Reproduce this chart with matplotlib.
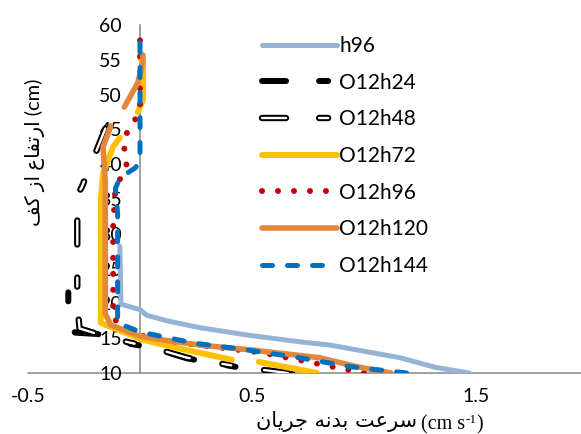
import numpy as np
import matplotlib
matplotlib.use("Agg")
import matplotlib.pyplot as plt
import matplotlib.patheffects as pe

plt.rcParams['font.family'] = ['Lato', 'DejaVu Sans']
plt.rcParams['lines.scale_dashes'] = False

nan = np.nan

# velocity (cm/s) vs height (cm)
h96_x = [1.47, 1.32, 1.16, 0.85, 0.71, 0.49, 0.27, 0.12, 0.03, 0.0, -0.085, -0.09]
h96_y = [10, 10.8, 12.2, 14.0, 14.5, 15.4, 16.5, 17.5, 18.3, 19.1, 19.9, 28.2]

o24_x = [0.68, 0.46, 0.21, 0.06, -0.045, -0.19, -0.29, -0.32, -0.32]
o24_y = [10, 10.7, 12.1, 13.6, 14.2, 15.6, 15.8, 17.0, 26.0]

o48_x = [0.66, 0.46, 0.21, 0.06, -0.05, -0.19, -0.27, -0.28, -0.28, -0.295, -0.26, -0.14, -0.14]
o48_y = [10, 10.8, 12.2, 13.6, 14.4, 15.6, 16.4, 20.0, 32.9, 34.8, 36.7, 46.3, 47.9]

o72_x = [0.79, 0.53, nan, 0.41, 0.15, 0.01, -0.175, -0.175, -0.165, -0.12, -0.09, nan, -0.01, 0.013, 0.013, 0.0]
o72_y = [10, 11.6, nan, 11.9, 13.7, 14.8, 17.2, 34.9, 38.7, 42.5, 43.8, nan, 47.5, 49.2, 54.5, 55.4]

o96_x = [1.0, 0.89, 0.55, 0.19, 0.0, -0.12, -0.12, -0.12, -0.11, -0.09, -0.06, -0.07, -0.06, -0.02, 0.0, 0.0]
o96_y = [10, 10.7, 12.9, 14.3, 15.4, 17.8, 22.0, 31.0, 36.5, 37.8, 40.0, 42.2, 44.4, 46.5, 48.0, 58.0]

o120_x = [1.12, 0.97, 0.80, 0.50, 0.27, 0.09, 0.0, -0.13, -0.155, -0.155, -0.165, -0.13, nan, -0.07, -0.01, 0.013, 0.013]
o120_y = [10, 10.9, 12.2, 13.3, 14.0, 14.8, 15.3, 16.9, 18.5, 37.7, 42.5, 45.5, nan, 48.2, 51.7, 54.7, 55.7]

o144_x = [1.19, 0.94, 0.71, 0.48, 0.24, 0.0, -0.10, -0.10, -0.10, -0.11, -0.09, -0.02, 0.0, 0.0]
o144_y = [10, 10.9, 12.2, 13.3, 14.3, 15.9, 17.2, 27.7, 33.0, 36.5, 38.0, 39.5, 40.6, 58.3]

labels = ['h96', 'O12h24', 'O12h48', 'O12h72', 'O12h96', 'O12h120', 'O12h144']
xticks = [-0.5, 0.5, 1.5]
yticks = list(range(10, 61, 5))

# simple arabic/persian shaping, matplotlib does not join letters itself
FORMS = {
    'ا': ('\uFE8D', '\uFE8E', None, None),
    'ب': ('\uFE8F', '\uFE90', '\uFE91', '\uFE92'),
    'ت': ('\uFE95', '\uFE96', '\uFE97', '\uFE98'),
    'ج': ('\uFE9D', '\uFE9E', '\uFE9F', '\uFEA0'),
    'د': ('\uFEA9', '\uFEAA', None, None),
    'ر': ('\uFEAD', '\uFEAE', None, None),
    'ز': ('\uFEAF', '\uFEB0', None, None),
    'س': ('\uFEB1', '\uFEB2', '\uFEB3', '\uFEB4'),
    'ع': ('\uFEC9', '\uFECA', '\uFECB', '\uFECC'),
    'ف': ('\uFED1', '\uFED2', '\uFED3', '\uFED4'),
    'ن': ('\uFEE5', '\uFEE6', '\uFEE7', '\uFEE8'),
    'ه': ('\uFEE9', '\uFEEA', '\uFEEB', '\uFEEC'),
    'ی': ('\uFBFC', '\uFBFD', '\uFBFE', '\uFBFF'),
    'ک': ('\uFB8E', '\uFB8F', '\uFB90', '\uFB91'),
}


def shape(text):
    out = []
    for i, ch in enumerate(text):
        if ch not in FORMS:
            out.append(ch)
            continue
        prev = text[i - 1] if i > 0 else ''
        nxt = text[i + 1] if i + 1 < len(text) else ''
        jp = prev in FORMS and FORMS[prev][2] is not None
        jn = nxt in FORMS and FORMS[ch][2] is not None
        iso, fin, ini, med = FORMS[ch]
        if jp and jn:
            out.append(med)
        elif jp:
            out.append(fin)
        elif jn:
            out.append(ini)
        else:
            out.append(iso)
    return ''.join(out)[::-1]


fig = plt.figure(figsize=(5.81, 4.34), dpi=100)
ax = fig.add_axes([28 / 581, 61 / 434, 560 / 581, 348 / 434])

blk_dash = (0, (17.3, 23.8, 6.5, 23.8))

ax.plot(h96_x, h96_y, color='#95B3D7', lw=3.6, solid_capstyle='round', label=labels[0])
ax.plot(o24_x, o24_y, color='black', lw=4.3, ls=blk_dash, dash_capstyle='round', label=labels[1])
ax.plot(o48_x, o48_y, color='white', lw=1.7, ls=blk_dash, dash_capstyle='round', label=labels[2],
        path_effects=[pe.Stroke(linewidth=4.6, foreground='black'), pe.Normal()])
ax.plot(o72_x, o72_y, color='#FFC000', lw=4.3, solid_capstyle='round', label=labels[3])
ax.plot(o96_x, o96_y, color='#C00000', lw=4.3, ls=(0, (0.01, 11.5)), dash_capstyle='round', label=labels[4])
ax.plot(o120_x, o120_y, color='#E2873B', lw=4.0, solid_capstyle='round', label=labels[5])
ax.plot(o144_x, o144_y, color='#0070C0', lw=3.6, ls=(0, (7.2, 10.8)), dash_capstyle='round', label=labels[6])

ax.set_xlim(-0.5, 2.0)
ax.set_ylim(10, 60)
ax.set_xticks(xticks)
ax.set_xticklabels([str(v) for v in xticks])
ax.set_yticks(yticks)
ax.tick_params(length=0, labelsize=14, colors='black')
ax.tick_params(axis='x', pad=11)
ax.tick_params(axis='y', pad=13)

for s in ['top', 'right']:
    ax.spines[s].set_visible(False)
ax.spines['left'].set_position(('data', 0))
for s in ['left', 'bottom']:
    ax.spines[s].set_color('#868686')
    ax.spines[s].set_linewidth(1.1)
    ax.spines[s].set_zorder(1)

leg = ax.legend(loc='upper left', bbox_to_anchor=(262 / 581, 1 - 36 / 434), bbox_transform=fig.transFigure,
                frameon=False, fontsize=15, handlelength=3.6, handletextpad=0.12,
                labelspacing=0.8, borderpad=0, borderaxespad=0)

# x label: persian part, then the unit (cm s^-1) built from small pieces
W, H = 581, 434
r = fig.canvas.get_renderer()
fig.text(417 / W, 1 - 427 / H, shape('سرعت بدنه جریان'),
         ha='right', va='baseline', fontsize=15, family=['DejaVu Sans'])
u1 = fig.text(421 / W, 1 - 429 / H, '(cm s', ha='left', va='baseline',
              fontsize=14.5, family=['Liberation Serif'])
x1 = u1.get_window_extent(r).x1
u2 = fig.text(x1 / W, 1 - 423 / H, '-1', ha='left', va='baseline',
              fontsize=9.5, family=['Liberation Serif'])
x2 = u2.get_window_extent(r).x1
fig.text(x2 / W, 1 - 429 / H, ')', ha='left', va='baseline',
         fontsize=14.5, family=['Liberation Serif'])

fig.text(35 / W, 1 - 152 / H, shape('ارتفاع از کف') + ' (cm)',
         ha='center', va='center', rotation=90, fontsize=14.5)

fig.savefig('out.png', dpi=100)
